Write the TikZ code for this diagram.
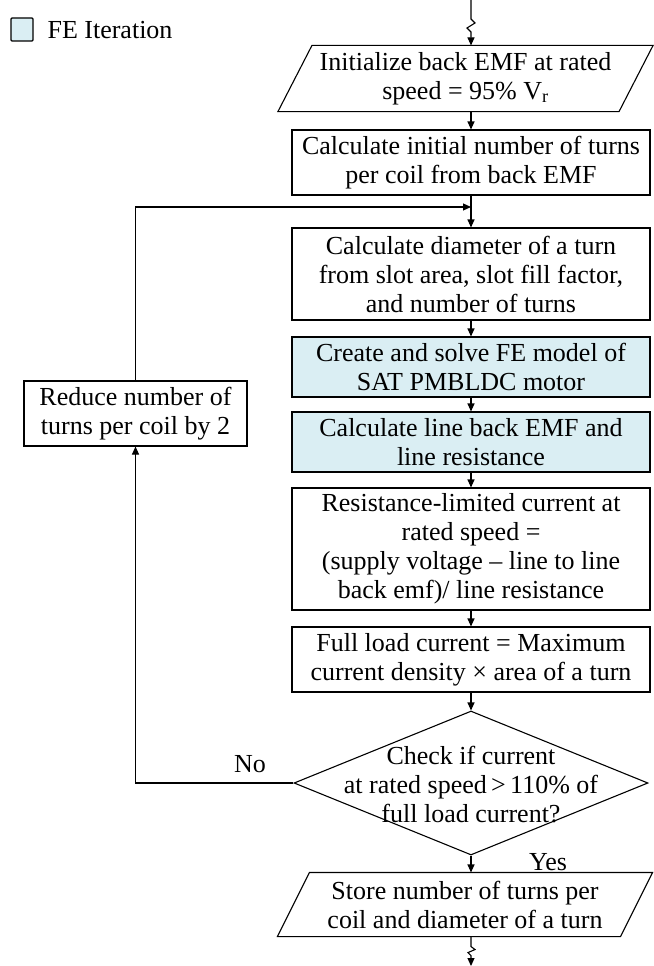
\documentclass[tikz,border=0pt]{standalone}
\usepackage{fontspec}
\setmainfont{Liberation Serif}
\usetikzlibrary{arrows.meta,shapes.geometric}
\definecolor{feblue}{HTML}{DAEEF3}
\begin{document}
\begin{tikzpicture}[x=1pt,y=-1pt,
  font=\fontsize{26}{29}\selectfont,
  line width=1.1pt,
  box/.style={draw, rectangle, align=center, inner sep=2pt, minimum width=358pt},
  febox/.style={box, fill=feblue},
  txt/.style={align=center, inner sep=0pt},
  arr/.style={-{Triangle[length=8pt,width=7pt]}}]
\useasboundingbox (0,0) rectangle (653,966);

% legend
\node[draw, fill=feblue, rounded corners=1pt, minimum width=22pt, minimum height=23pt, inner sep=0pt] (legbox) at (22,29.5) {};
\node[anchor=west, inner sep=0pt] (legtxt) at (47,30) {FE Iteration};

% main column
\node[txt, minimum width=340pt, minimum height=65pt] (init) at (465.5,78.5) {Initialize back EMF at rated\\speed = 95\% V\textsubscript{r}};
\draw ([xshift=17pt]init.north west) -- ([xshift=17pt]init.north east) -- ([xshift=-17pt]init.south east) -- ([xshift=-17pt]init.south west) -- cycle;

\node[box, minimum height=65pt] (calc1) at (471,162.5) {Calculate initial number of turns\\per coil from back EMF};
\node[box, minimum height=92pt] (calc2) at (471,274) {Calculate diameter of a turn\\from slot area, slot fill factor,\\and number of turns};
\node[febox, minimum height=60pt] (fe1) at (471,367) {Create and solve FE model of\\SAT PMBLDC motor};
\node[febox, minimum height=60pt] (fe2) at (471,442) {Calculate line back EMF and\\line resistance};
\node[box, minimum height=122pt] (resist) at (471,549) {Resistance-limited current at\\rated speed =\\(supply voltage – line to line\\back emf)/ line resistance};
\node[box, minimum height=65pt] (full) at (471,659.5) {Full load current = Maximum\\current density × area of a turn};
\node[draw, diamond, minimum width=354pt, minimum height=144pt, inner sep=0pt] (dec) at (471,783) {};
\node[txt] (dectxt) at (471,785) {Check if current\\at rated speed\,>\,110\% of\\full load current?};
\node[txt, minimum width=342pt, minimum height=63pt] (store) at (465,904.5) {Store number of turns per\\coil and diameter of a turn};
\draw ([xshift=16pt]store.north west) -- ([xshift=16pt]store.north east) -- ([xshift=-16pt]store.south east) -- ([xshift=-16pt]store.south west) -- cycle;

\node[box, minimum width=223pt, minimum height=65pt] (reduce) at (135.5,413.5) {Reduce number of\\turns per coil by 2};

\node[inner sep=0pt] (no) at (250,764) {No};
\node[inner sep=0pt] (yes) at (548,862) {Yes};

% connectors
\coordinate (top) at (471,0);
\coordinate (merge) at (471,207);
\coordinate (bot) at (471,966);
\draw[arr] (top) -- ++(0,19) -- ++(4,4) -- ++(-8,5) -- ++(4,4) -- (top |- init.north);
\draw[arr] (top |- init.south) -- (calc1.north);
\draw[arr] (calc1.south) -- (calc2.north);
\draw[arr] (reduce.north) |- (merge);
\draw[arr] (calc2.south) -- (fe1.north);
\draw[arr] (fe1.south) -- (fe2.north);
\draw[arr] (fe2.south) -- (resist.north);
\draw[arr] (resist.south) -- (full.north);
\draw[arr] (full.south) -- (dec.north);
\draw[arr] (dec.south) -- (dec.south |- store.north);
\draw[arr] (dec.west) -- (reduce.south |- dec.west) -- (reduce.south);
\draw[arr] (dec.south |- store.south) -- ++(0,10) -- ++(4,3) -- ++(-7,3) -- ++(3,3) -- (bot);
\end{tikzpicture}
\end{document}
